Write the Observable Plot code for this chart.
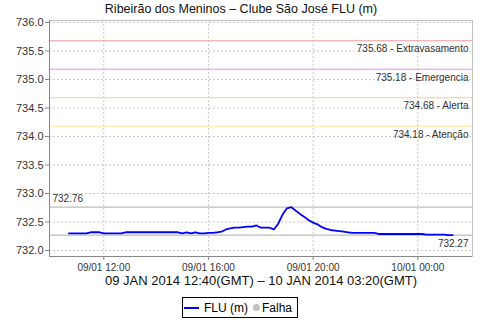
<!DOCTYPE html>
<html><head><meta charset="utf-8">
<script src="https://cdn.jsdelivr.net/npm/d3@7"></script>
<script src="https://cdn.jsdelivr.net/npm/@observablehq/plot@0.6"></script>
<style>
body{margin:0;background:#fff;}
#chart{position:relative;width:480px;height:320px;font-family:"Liberation Sans",Arial,sans-serif;}
#chart svg{position:absolute;left:0;top:0;}
#legend{position:absolute;left:182px;top:297px;width:114px;height:19px;border:1px solid #000;background:#fff;font-size:12px;color:#000;display:flex;align-items:center;white-space:nowrap;}
#legend .ln{display:inline-block;width:15px;height:2px;background:#0000ff;margin-left:1px;margin-right:5px;}
#legend .dt{display:inline-block;width:7px;height:7px;border-radius:50%;background:#c0c0c0;margin-left:5px;margin-right:2px;}
</style></head><body><div id="chart"></div>
<script>
const title = "Ribeirão dos Meninos – Clube São José FLU (m)";
const subtitle = "09 JAN 2014 12:40(GMT) – 10 JAN 2014 03:20(GMT)";
// local clock (GMT-2); readings every 10 minutes starting 10:40
const startTime = Date.UTC(2014, 0, 9, 10, 40);
const stepMinutes = 10;
const levels = [
  732.30, 732.30, 732.30, 732.30, 732.30, 732.32, 732.32, 732.32, 732.30, 732.30,
  732.30, 732.30, 732.30, 732.32, 732.32, 732.32, 732.32, 732.32, 732.32, 732.32,
  732.32, 732.32, 732.32, 732.32, 732.32, 732.32, 732.30, 732.32, 732.30, 732.32,
  732.30, 732.30, 732.31, 732.31, 732.32, 732.33, 732.37, 732.39, 732.40, 732.40,
  732.41, 732.42, 732.42, 732.44, 732.40, 732.40, 732.40, 732.37, 732.47, 732.63,
  732.74, 732.76, 732.70, 732.64, 732.59, 732.53, 732.49, 732.46, 732.41, 732.38,
  732.36, 732.35, 732.34, 732.33, 732.32, 732.31, 732.31, 732.31, 732.31, 732.31,
  732.31, 732.29, 732.29, 732.29, 732.29, 732.29, 732.29, 732.29, 732.29, 732.29,
  732.29, 732.29, 732.28, 732.28, 732.28, 732.28, 732.28, 732.27, 732.27
];
const thresholdValues = [735.68, 735.18, 734.68, 734.18];
const thresholdNames = ["Extravasamento", "Emergencia", "Alerta", "Atenção"];
const thresholdColors = ["#f29a9a", "#ff80ff", "#f9c89e", "#f9e7a2"];
const xTicks = [Date.UTC(2014,0,9,12), Date.UTC(2014,0,9,16), Date.UTC(2014,0,9,20), Date.UTC(2014,0,10,0)];
const yTicks = [732.0, 732.5, 733.0, 733.5, 734.0, 734.5, 735.0, 735.5, 736.0];
const xDomain = [Date.UTC(2014,0,9,9,55,30), Date.UTC(2014,0,10,2,5,30)];
const yDomain = [731.895, 736.035];
const legendLabels = ["FLU (m)", "Falha"];

const data = levels.map((v, i) => ({time: new Date(startTime + i * stepMinutes * 60000), level: v}));
const maxV = d3.max(levels), minV = d3.min(levels);
const thr = thresholdValues.map((v, i) => ({value: v, name: thresholdNames[i], color: thresholdColors[i]}));
const xt = xTicks.map(d => new Date(d));

const plot = Plot.plot({
  width: 480, height: 320,
  marginTop: 20, marginRight: 8, marginBottom: 64, marginLeft: 49,
  style: {fontFamily: "Liberation Sans, Arial, sans-serif", background: "transparent"},
  x: {type: "utc", domain: xDomain.map(d => new Date(d))},
  y: {domain: yDomain},
  color: {type: "identity"},
  marks: [
    Plot.gridX(xt, {stroke: "#c8c8c8", strokeOpacity: 1, strokeDasharray: "2,2"}),
    Plot.gridY(yTicks, {stroke: "#c8c8c8", strokeOpacity: 1, strokeDasharray: "2,2"}),
    Plot.ruleY(thr, {y: "value", stroke: "color", strokeWidth: 1.2}),
    Plot.ruleY([maxV, minV], {stroke: "#bdbdbd", strokeWidth: 1.2}),
    Plot.text(thr, {y: "value", text: d => `${d.value.toFixed(2)} - ${d.name}`, frameAnchor: "right", textAnchor: "end", dx: -4, dy: 8.5, fontSize: 10, fill: "#333"}),
    Plot.text([maxV], {y: d => d, text: d => d.toFixed(2), frameAnchor: "left", textAnchor: "start", dx: 3, dy: -8, fontSize: 10, fill: "#333"}),
    Plot.text([minV], {y: d => d, text: d => d.toFixed(2), frameAnchor: "right", textAnchor: "end", dx: -4, dy: 8.7, fontSize: 10, fill: "#333"}),
    Plot.line(data, {x: "time", y: "level", stroke: "#0000ff", strokeWidth: 1.8}),
    Plot.frame({stroke: "#c0c0c0"}),
    Plot.ruleX([xDomain[0]], {x: d => new Date(d), stroke: "#888"}),
    Plot.ruleY([yDomain[0]], {stroke: "#888"}),
    Plot.axisY({ticks: yTicks, tickFormat: d3.format(".1f"), tickSize: 4, tickPadding: 2, fontSize: 11, stroke: "#888", color: "#333", label: null}),
    Plot.axisX({ticks: xt, tickFormat: d3.utcFormat("%d/%m %H:%M"), tickSize: 4, tickPadding: 3, fontSize: 10, stroke: "#888", color: "#333", label: null}),
    Plot.text([title], {text: d => d, frameAnchor: "top", dx: -20, dy: -16, fontSize: 12.5, fill: "#111"}),
    Plot.text([subtitle], {text: d => d, frameAnchor: "bottom", dy: 28, fontSize: 13, fill: "#111"})
  ]
});
const chart = document.getElementById("chart");
chart.appendChild(plot);
const legend = document.createElement("div");
legend.id = "legend";
legend.innerHTML = `<span class="ln"></span><span>${legendLabels[0]}</span><span class="dt"></span><span>${legendLabels[1]}</span>`;
chart.appendChild(legend);
</script>
</body></html>
